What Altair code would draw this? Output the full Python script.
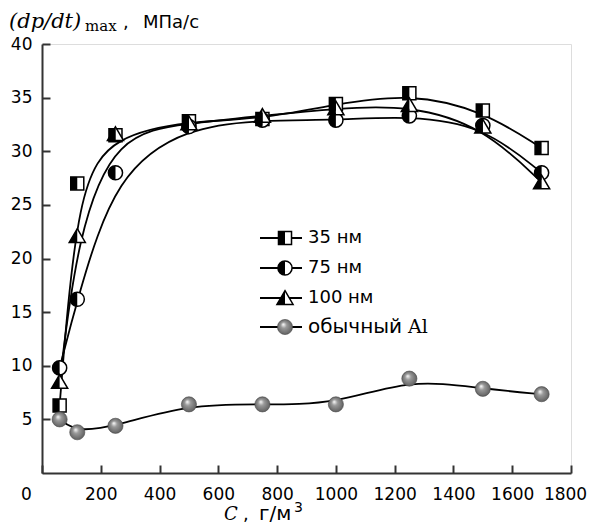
import altair as alt
import pandas as pd

# ---- data ----
x_vals = [60, 120, 250, 500, 750, 1000, 1250, 1500, 1700]
nm35 = [6.3, 27.0, 31.5, 32.8, 33.0, 34.4, 35.4, 33.8, 30.3]
nm75 = [9.8, 16.2, 28.0, 32.3, 32.9, 32.9, 33.3, 32.4, 28.0]
nm100 = [8.5, 22.1, 31.6, 32.6, 33.3, 34.0, 34.3, 32.3, 27.1]
al_vals = [5.0, 3.8, 4.4, 6.4, 6.4, 6.4, 8.8, 7.85, 7.35]
series_names = ["35 нм", "75 нм", "100 нм"]
al_name = "обычный"
x_ticks = [0, 200, 400, 600, 800, 1000, 1200, 1400, 1600, 1800]
y_ticks = [5, 10, 15, 20, 25, 30, 35, 40]

# ---- marker shapes (custom symbol paths, unit [-1,1]) ----
SQ_FULL = "M-1,-1L1,-1L1,1L-1,1Z"
SQ_HALF = "M-1,-1L0,-1L0,1L-1,1Z"
CI_FULL = "M1,0A1,1 0 1,1 -1,0A1,1 0 1,1 1,0Z"
CI_HALF = "M0,-1A1,1 0 0,0 0,1Z"
TR_FULL = "M0,-0.9L1,0.8L-1,0.8Z"
TR_HALF = "M0,-0.9L0,0.8L-1,0.8Z"
full_shapes = [SQ_FULL, CI_FULL, TR_FULL]
half_shapes = [SQ_HALF, CI_HALF, TR_HALF]
sizes = [170, 200, 260]

rows = []
for name, vals, fs, hs, sz in zip(series_names, [nm35, nm75, nm100], full_shapes, half_shapes, sizes):
    for xv, yv in zip(x_vals, vals):
        rows.append({"series": name, "x": xv, "y": yv, "full": fs, "half": hs, "sz": sz})
nano = pd.DataFrame(rows)
al = pd.DataFrame({"x": x_vals, "y": al_vals})

W, H = 529, 429
xs = alt.Scale(domain=[0, 1800], nice=False)
ys = alt.Scale(domain=[0, 40], nice=False)

xaxis = alt.Axis(values=x_ticks, title=None, grid=False, format="d",
                 labelFont="DejaVu Sans", labelFontSize=17, labelColor="black",
                 tickSize=alt.ExprRef(expr="-8"), tickWidth=2, tickColor="#333",
                 domainColor="#333", domainWidth=2, labelPadding=21, labelFlush=False,
                 labelOffset={"condition": [{"test": "datum.value == 0", "value": -16},
                                            {"test": "datum.value == 1800", "value": -6}],
                              "value": 0})
yaxis = alt.Axis(values=y_ticks, title=None, grid=False,
                 labelFont="DejaVu Sans", labelFontSize=17, labelColor="black",
                 tickSize=alt.ExprRef(expr="-8"), tickWidth=2, tickColor="#333",
                 domainColor="#333", domainWidth=2, labelPadding=18, labelFlush=False)

X = alt.X("x:Q", scale=xs, axis=xaxis)
Y = alt.Y("y:Q", scale=ys, axis=yaxis)

nano_lines = alt.Chart(nano).mark_line(interpolate="basis", color="black", strokeWidth=1.8).encode(
    x=X, y=Y, detail="series:N")
al_line = alt.Chart(al).mark_line(interpolate="basis", color="black", strokeWidth=1.8).encode(
    x=alt.X("x:Q", scale=xs), y=alt.Y("y:Q", scale=ys))

nano_full = alt.Chart(nano).mark_point(filled=True, fill="white", stroke="black", strokeWidth=1.5, opacity=1).encode(
    x=alt.X("x:Q", scale=xs), y=alt.Y("y:Q", scale=ys),
    shape=alt.Shape("full:N", scale=None, legend=None), size=alt.Size("sz:Q", scale=None, legend=None))
nano_half = alt.Chart(nano).mark_point(filled=True, fill="black", strokeWidth=0, opacity=1).encode(
    x=alt.X("x:Q", scale=xs), y=alt.Y("y:Q", scale=ys),
    shape=alt.Shape("half:N", scale=None, legend=None), size=alt.Size("sz:Q", scale=None, legend=None))

ball_fill = alt.RadialGradient(
    gradient="radial",
    stops=[alt.GradientStop(color="#ffffff", offset=0),
           alt.GradientStop(color="#9a9a9a", offset=0.35),
           alt.GradientStop(color="#5a5a5a", offset=1)],
    x1=0.38, y1=0.32, r1=0, x2=0.5, y2=0.5, r2=0.55)
al_pts = alt.Chart(al).mark_point(filled=True, fill=ball_fill, stroke="#444", strokeWidth=0.6, opacity=1, size=230,
                                  shape="circle").encode(
    x=alt.X("x:Q", scale=xs), y=alt.Y("y:Q", scale=ys))

# ---- legend (drawn manually, pixel positions in plot coordinates) ----
leg_y = [194, 224, 254, 283]
leg_nano = pd.DataFrame({"ly": leg_y[:3], "full": full_shapes, "half": half_shapes, "sz": sizes})
leg_all = pd.DataFrame({"ly": leg_y, "label": series_names + [al_name], "fs": [18, 18, 18, 20]})
leg_al = pd.DataFrame({"ly": [leg_y[3]]})
LY = alt.Y("ly:Q", scale=None)

leg_lines = alt.Chart(leg_all).mark_rule(color="black", strokeWidth=1.8).encode(
    x=alt.value(218), x2=alt.value(260), y=LY)
leg_full = alt.Chart(leg_nano).mark_point(filled=True, fill="white", stroke="black", strokeWidth=1.5, opacity=1).encode(
    x=alt.value(243), y=LY, shape=alt.Shape("full:N", scale=None, legend=None),
    size=alt.Size("sz:Q", scale=None, legend=None))
leg_half = alt.Chart(leg_nano).mark_point(filled=True, fill="black", strokeWidth=0, opacity=1).encode(
    x=alt.value(243), y=LY, shape=alt.Shape("half:N", scale=None, legend=None),
    size=alt.Size("sz:Q", scale=None, legend=None))
leg_ball = alt.Chart(leg_al).mark_point(filled=True, fill=ball_fill, stroke="#444", strokeWidth=0.6, opacity=1,
                                        size=230, shape="circle").encode(x=alt.value(243), y=LY)
leg_text = alt.Chart(leg_all).mark_text(align="left", baseline="middle", font="DejaVu Sans",
                                        color="black").encode(
    x=alt.value(266), y=LY, text="label:N", size=alt.Size("fs:Q", scale=None, legend=None))

# ---- titles (text pieces) ----
serif_it = pd.DataFrame({"t": ["(dp/dt)", "C"], "px": [-33, 182], "py": [-16, 476], "fs": [21, 18]})
serif_rm = pd.DataFrame({"t": ["max", "Al"], "px": [43, 366], "py": [-13, 289], "fs": [15, 19]})
sans = pd.DataFrame({"t": [",", "МПа/с", ",", "г/м", "3"],
                     "px": [81, 101, 201, 217, 252], "py": [-16, -16, 476, 476, 468],
                     "fs": [18, 18, 18, 20, 14]})

def text_layer(df, font, style):
    kw = dict(align="left", baseline="alphabetic", font=font, color="black")
    if style:
        kw["fontStyle"] = style
    return alt.Chart(df).mark_text(**kw).encode(
        x=alt.X("px:Q", scale=None), y=alt.Y("py:Q", scale=None), text="t:N",
        size=alt.Size("fs:Q", scale=None, legend=None))

t1 = text_layer(serif_it, "DejaVu Serif", "italic")
t2 = text_layer(serif_rm, "DejaVu Serif", None)
t3 = text_layer(sans, "DejaVu Sans", None)

chart = alt.layer(
    nano_lines, al_line, nano_full, nano_half, al_pts,
    leg_lines, leg_full, leg_half, leg_ball, leg_text, t1, t2, t3
).properties(
    width=W, height=H,
    autosize=alt.AutoSizeParams(type="none"),
    padding={"left": 34, "top": 36, "right": 16, "bottom": 51},
).configure_view(stroke="#333", strokeWidth=2).configure(background="white")

chart.save("out.html", embed_options={"renderer": "svg", "actions": False})
